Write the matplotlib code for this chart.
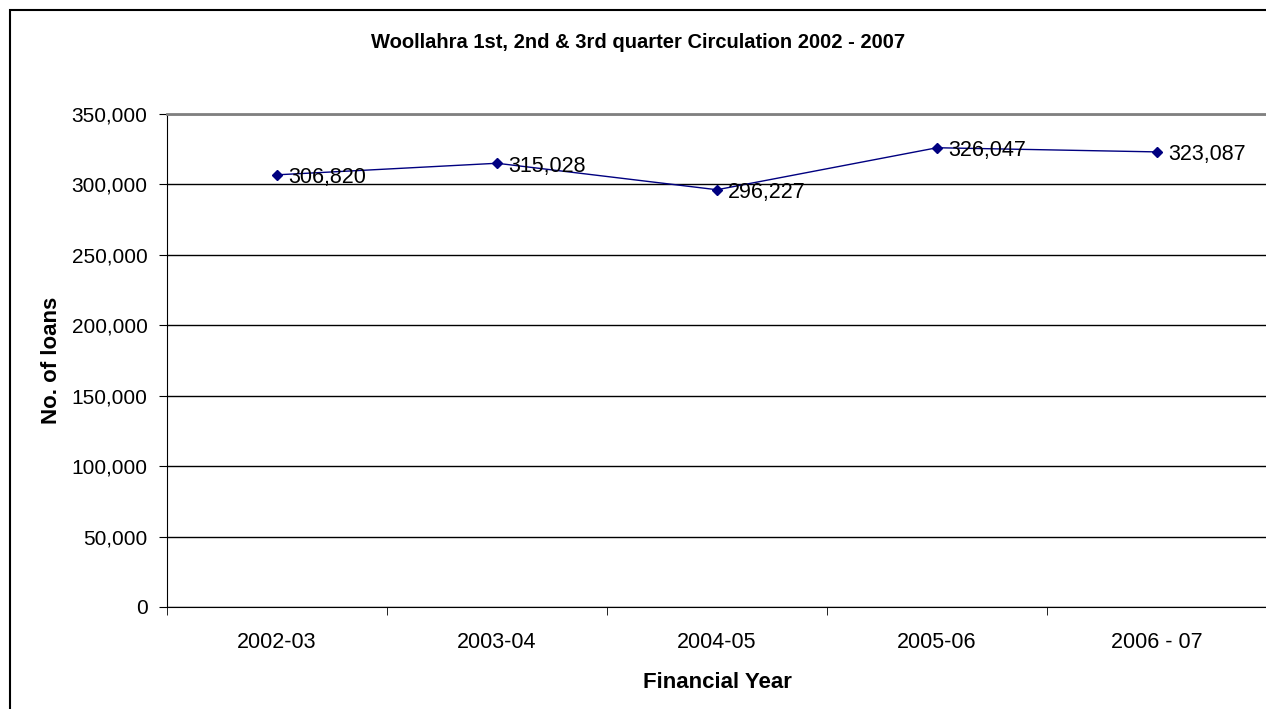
import matplotlib
matplotlib.use("Agg")
import matplotlib.pyplot as plt
from matplotlib.patches import Rectangle
from matplotlib.ticker import FuncFormatter, FixedLocator

plt.rcParams['font.family'] = ['Liberation Sans', 'DejaVu Sans']

years = ["2002-03", "2003-04", "2004-05", "2005-06", "2006 - 07"]
loans = [306820, 315028, 296227, 326047, 323087]

fig = plt.figure(figsize=(12.66, 7.09), dpi=100)
ax = fig.add_axes([167 / 1266, 1 - 607 / 709, 1100 / 1266, (607 - 114) / 709])

x = list(range(len(years)))
ax.plot(x, loans, color="#000080", lw=1, marker="D", ms=5, zorder=3)
for xi, v in zip(x, loans):
    ax.annotate(f"{v:,}", (xi, v), xytext=(8, -2), textcoords="offset points",
                ha="left", va="center", fontsize=15.5, zorder=4)

ax.set_xlim(-0.5, len(years) - 0.5)
ax.set_ylim(0, 350000)
ax.set_yticks(range(0, 350001, 50000))
ax.yaxis.set_major_formatter(FuncFormatter(lambda v, p: f"{int(v):,}"))
ax.set_xticks(x)
ax.set_xticklabels(years)
ax.xaxis.set_minor_locator(FixedLocator([i - 0.5 for i in range(len(years) + 1)]))
ax.tick_params(axis="x", which="major", length=0, pad=18, labelsize=15.5)
ax.tick_params(axis="x", which="minor", length=6, direction="out", color="black")
ax.tick_params(axis="y", length=6, direction="out", labelsize=15, pad=8)
ax.grid(axis="y", color="black", lw=1)
ax.set_axisbelow(True)

ax.spines["right"].set_visible(False)
ax.spines["top"].set_color("#808080")
ax.spines["top"].set_linewidth(2)
ax.spines["left"].set_color("black")
ax.spines["bottom"].set_color("black")

ax.set_xlabel("Financial Year", fontsize=16, fontweight="bold", labelpad=14)
ax.set_ylabel("No. of loans", fontsize=16, fontweight="bold", labelpad=7)
fig.text(638 / 1266, 1 - 42 / 709, "Woollahra 1st, 2nd & 3rd quarter Circulation 2002 - 2007",
         ha="center", va="center", fontsize=14.5, fontweight="bold")

fig.patches.append(Rectangle((9.5 / 1266, -0.1), 1.2, 1.1 - 10 / 709, transform=fig.transFigure,
                             fill=False, edgecolor="black", lw=1.5))

fig.savefig("out.png", dpi=100)
